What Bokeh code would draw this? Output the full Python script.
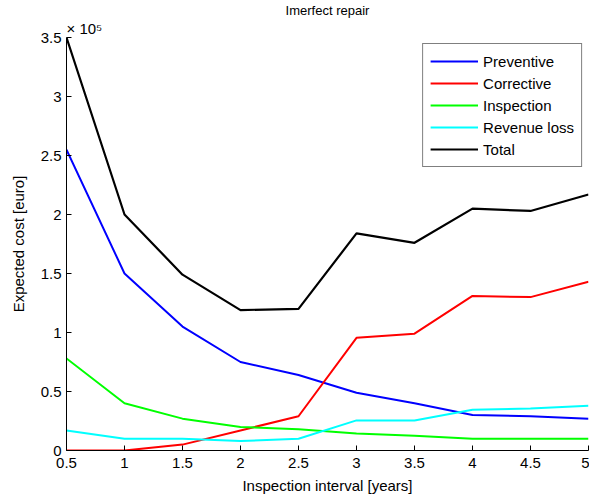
from bokeh.plotting import figure
from bokeh.models import Range1d, FixedTicker, CustomJSTickFormatter, Title, Legend, LegendItem
from bokeh.embed import file_html
from bokeh.resources import INLINE

# Inspection interval [years]
interval = [0.5, 1.0, 1.5, 2.0, 2.5, 3.0, 3.5, 4.0, 4.5, 5.0]
# Expected cost, in units of 1e5 euro
preventive = [2.55, 1.50, 1.05, 0.75, 0.64, 0.49, 0.40, 0.30, 0.29, 0.27]
corrective = [0.00, 0.00, 0.05, 0.17, 0.29, 0.955, 0.99, 1.31, 1.30, 1.43]
inspection = [0.78, 0.40, 0.27, 0.20, 0.18, 0.145, 0.125, 0.10, 0.10, 0.10]
revenue_loss = [0.17, 0.10, 0.10, 0.08, 0.10, 0.255, 0.255, 0.345, 0.355, 0.38]
total = [3.50, 2.00, 1.49, 1.19, 1.20, 1.84, 1.76, 2.05, 2.03, 2.17]

series_names = ["Preventive", "Corrective", "Inspection", "Revenue loss", "Total"]
series_colors = ["#0000ff", "#ff0000", "#00ff00", "#00ffff", "#000000"]
series_values = [preventive, corrective, inspection, revenue_loss, total]

x_ticks = [0.5, 1, 1.5, 2, 2.5, 3, 3.5, 4, 4.5, 5]
y_ticks = [0, 0.5, 1, 1.5, 2, 2.5, 3, 3.5]

FONT = "Liberation Sans"

p = figure(width=589, height=496, output_backend="svg", toolbar_location=None,
           x_range=Range1d(0.5, 5), y_range=Range1d(0, 3.5),
           min_border_left=66, min_border_right=1, min_border_top=37, min_border_bottom=45)
p.outline_line_color = None
p.grid.visible = False
p.background_fill_color = "white"
p.border_fill_color = "white"

fmt = CustomJSTickFormatter(code="return tick.toString();")
for ax, ticks, lab in ((p.xaxis[0], x_ticks, "Inspection interval [years]"),
                       (p.yaxis[0], y_ticks, "Expected cost [euro]")):
    ax.ticker = FixedTicker(ticks=ticks)
    ax.formatter = fmt
    ax.axis_label = lab
    ax.axis_label_text_font = FONT
    ax.axis_label_text_font_style = "normal"
    ax.axis_label_text_font_size = "15px"
    ax.axis_label_text_color = "black"
    ax.major_label_text_font = FONT
    ax.major_label_text_font_size = "15px"
    ax.major_label_text_color = "black"
    ax.major_tick_in = 5
    ax.major_tick_out = 0
    ax.minor_tick_line_color = None
    ax.axis_line_color = "black"
    ax.major_tick_line_color = "black"

p.xaxis[0].major_label_standoff = 7
p.xaxis[0].axis_label_standoff = 6
p.yaxis[0].major_label_standoff = 5
p.yaxis[0].axis_label_standoff = 11

items = []
for name, color, vals in zip(series_names, series_colors, series_values):
    r = p.line(interval, vals, line_color=color, line_width=2.2 if name == "Total" else 2)
    items.append(LegendItem(label=name, renderers=[r]))

legend = Legend(items=items, location="top_right")
legend.label_text_font = FONT
legend.label_text_font_size = "15px"
legend.label_text_color = "black"
legend.glyph_width = 48
legend.glyph_height = 20
legend.label_height = 20
legend.spacing = 2
legend.padding = 7
legend.margin = 6
legend.label_standoff = 5
legend.border_line_color = "black"
legend.border_line_width = 1
p.add_layout(legend)

# exponent label (nearest the frame), then title above it
p.add_layout(Title(text="× 10⁵", align="left", text_font=FONT, text_font_size="15px",
                   text_font_style="normal", text_color="black", standoff=1), "above")
p.add_layout(Title(text="Imerfect repair", align="center", text_font=FONT, text_font_size="13px",
                   text_font_style="normal", text_color="black", standoff=0), "above")

open("out.html", "w").write(file_html(p, INLINE))
